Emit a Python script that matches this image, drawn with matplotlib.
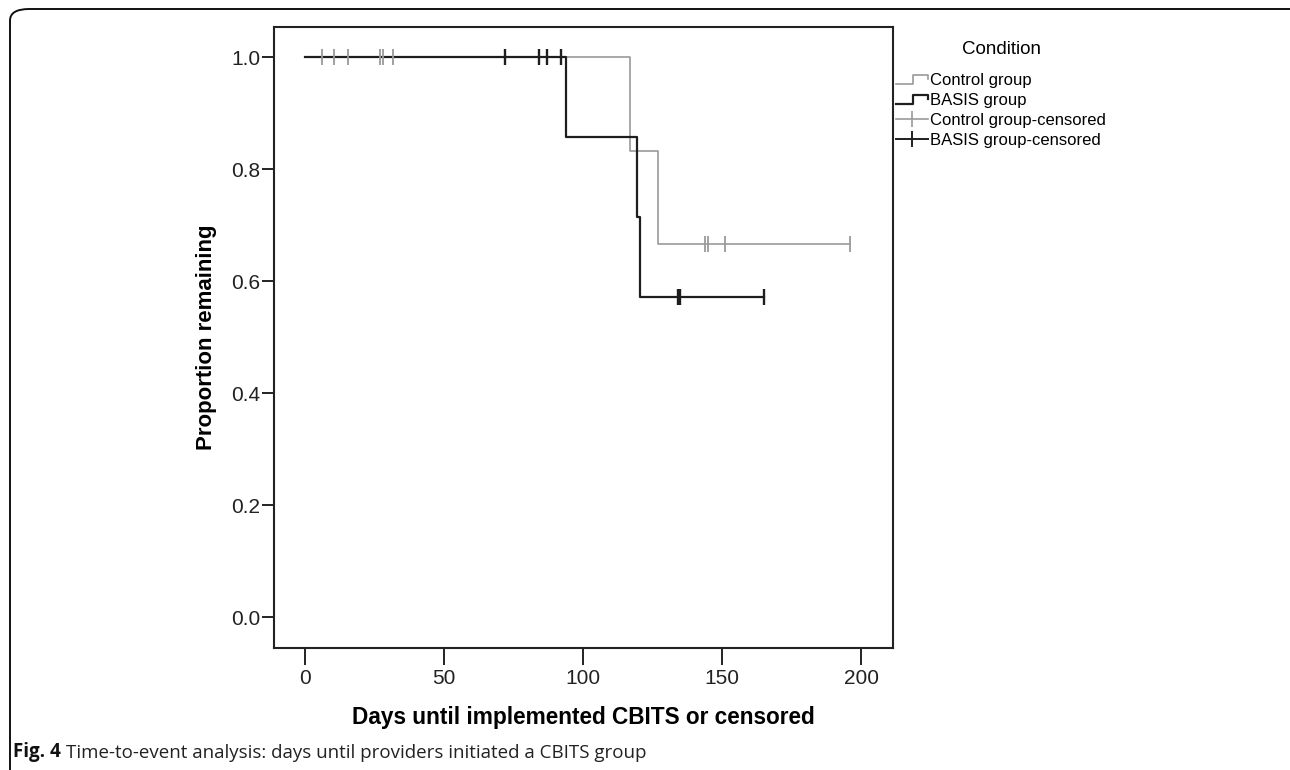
import matplotlib
matplotlib.use("Agg")
import matplotlib.pyplot as plt
from matplotlib import font_manager
from matplotlib.lines import Line2D
from matplotlib.legend_handler import HandlerBase
from matplotlib.patches import FancyBboxPatch

# ---------------- data ----------------
control_step_days = [0, 117, 127, 196]
control_step_surv = [1.0, 0.8333, 0.6667, 0.6667]
control_censor_days = [6, 10.5, 15.5, 27, 28, 31.5, 144, 145, 151, 196]
control_censor_surv = [1.0, 1.0, 1.0, 1.0, 1.0, 1.0, 0.6667, 0.6667, 0.6667, 0.6667]

basis_step_days = [0, 94, 119.5, 120.5, 165]
basis_step_surv = [1.0, 0.8571, 0.7143, 0.5714, 0.5714]
basis_censor_days = [72, 84, 87, 92, 134, 135, 165]
basis_censor_surv = [1.0, 1.0, 1.0, 1.0, 0.5714, 0.5714, 0.5714]

x_ticks = [0, 50, 100, 150, 200]
y_ticks = [0.0, 0.2, 0.4, 0.6, 0.8, 1.0]
y_tick_labels = ["0.0", "0.2", "0.4", "0.6", "0.8", "1.0"]
legend_labels = ["Control group", "BASIS group", "Control group-censored", "BASIS group-censored"]

GRAY = "#9a9a9a"
DARK = "#1e1e1e"

names = {f.name for f in font_manager.fontManager.ttflist}
narrow = "Liberation Sans Narrow" if "Liberation Sans Narrow" in names else "Liberation Sans"
caption_font = "Open Sans" if "Open Sans" in names else "DejaVu Sans"

W, H = 1290, 770
fig = plt.figure(figsize=(W / 100, H / 100), dpi=100)
fig.patch.set_facecolor("white")

# outer rounded frame (extends past right/bottom edge)
frame = FancyBboxPatch((10 / W, 1 - 1.02), 1.2, 1.02 - 9 / H,
                       boxstyle="round,pad=0,rounding_size=0.015",
                       transform=fig.transFigure, fill=False,
                       edgecolor="#111111", linewidth=1.4, clip_on=False)
fig.patches.append(frame)

ax = fig.add_axes([274 / W, 1 - 648 / H, (893 - 274) / W, (648 - 27) / H])

ax.step(control_step_days, control_step_surv, where="post", color=GRAY, lw=1.2, zorder=2)
ax.step(basis_step_days, basis_step_surv, where="post", color=DARK, lw=1.6, zorder=3)
ax.plot(control_censor_days, control_censor_surv, ls="none", marker="|", ms=11,
        mew=1.3, color=GRAY, zorder=4)
ax.plot(basis_censor_days, basis_censor_surv, ls="none", marker="|", ms=11,
        mew=1.7, color=DARK, zorder=5)

ax.set_xlim(-11.2, 211.5)
ax.set_ylim(-0.055, 1.054)
ax.set_xticks(x_ticks)
ax.set_yticks(y_ticks)
ax.set_yticklabels(y_tick_labels)
ax.tick_params(axis="x", direction="out", length=12, width=1.4, pad=3,
               labelsize=15, colors="#222222")
ax.tick_params(axis="y", direction="out", length=9, width=1.4, pad=1,
               labelsize=15, colors="#222222")
for lab in ax.get_xticklabels() + ax.get_yticklabels():
    lab.set_fontfamily(narrow)
for sp in ax.spines.values():
    sp.set_linewidth(1.5)
    sp.set_color("#222222")

ax.set_xlabel("Days until implemented CBITS or censored", fontsize=16.3,
              fontweight="bold", family="Liberation Sans", labelpad=13)
ax.set_ylabel("Proportion remaining", fontsize=16, fontweight="bold",
              family="Liberation Sans", labelpad=10)


class StepHandler(HandlerBase):
    def create_artists(self, legend, orig_handle, xdescent, ydescent, width,
                       height, fontsize, trans):
        x0, y0 = -xdescent, -ydescent
        xs = [x0, x0 + 0.55 * width, x0 + 0.55 * width, x0 + width, x0 + width]
        ys = [y0 + 0.15 * height, y0 + 0.15 * height, y0 + 0.85 * height,
              y0 + 0.85 * height, y0 + 0.55 * height]
        ln = Line2D(xs, ys, color=orig_handle.get_color(),
                    lw=orig_handle.get_linewidth(), transform=trans)
        return [ln]


h_ctrl = Line2D([], [], color=GRAY, lw=1.2)
h_basis = Line2D([], [], color=DARK, lw=1.6)
h_ctrl_c = Line2D([], [], color=GRAY, lw=1.2, marker="|", ms=12, mew=1.2)
h_basis_c = Line2D([], [], color=DARK, lw=1.4, marker="|", ms=12, mew=1.4)

leg = fig.legend([h_ctrl, h_basis, h_ctrl_c, h_basis_c], legend_labels,
                 loc="upper left", bbox_to_anchor=(896 / W, 1 - 41 / H),
                 frameon=False, title="Condition", title_fontsize=13.5,
                 prop={"family": "Liberation Sans", "size": 12},
                 handlelength=1.9, handletextpad=0.15, labelspacing=0.3,
                 borderpad=0, borderaxespad=0, numpoints=1,
                 handler_map={h_ctrl: StepHandler(), h_basis: StepHandler()})
leg.get_title().set_fontfamily("Liberation Sans")
leg._legend_box.sep = 11

# caption
t1 = fig.text(13 / W, 1 - 752 / H, "Fig. 4", fontsize=13.5, fontweight="bold",
              family=caption_font, va="center", color="#111111")
ax.annotate("Time-to-event analysis: days until providers initiated a CBITS group",
            xy=(1, 0), xycoords=t1, xytext=(4, 0), textcoords="offset points",
            va="bottom", ha="left", fontsize=13.5, family=caption_font,
            color="#222222", annotation_clip=False)

fig.savefig("out.png", dpi=100)
